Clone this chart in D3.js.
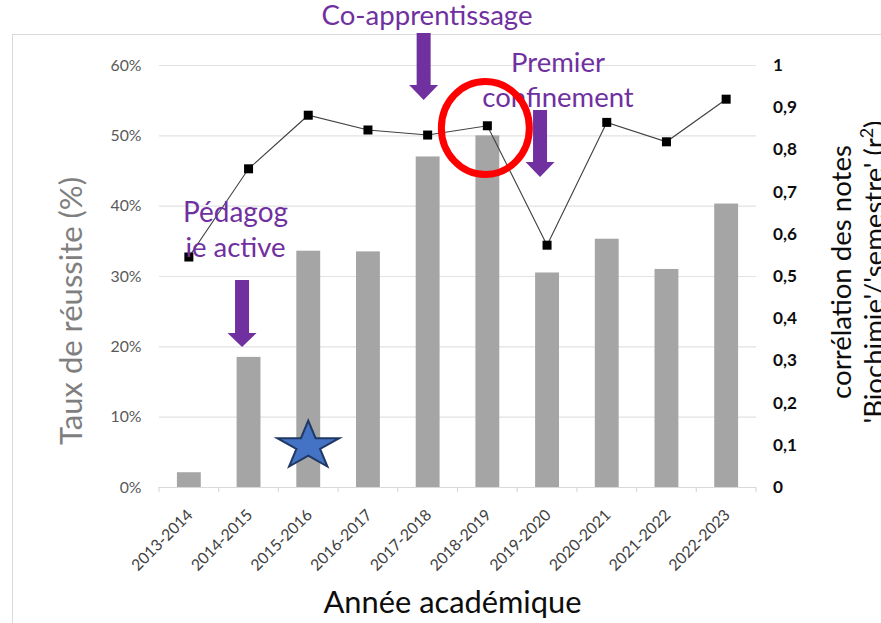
<!DOCTYPE html>
<html><head><meta charset="utf-8">
<script src="https://cdn.jsdelivr.net/npm/d3@7"></script>
<style>
body{margin:0;background:#fff}
svg{display:block}
text{font-family:Lato,"Noto Sans",sans-serif}
</style>
</head><body>
<svg id="c" width="881" height="623"></svg>
<script>
// ---- data ----
const years = ["2013-2014","2014-2015","2015-2016","2016-2017","2017-2018","2018-2019","2019-2020","2020-2021","2021-2022","2022-2023"];
const successRate = [2.1, 18.5, 33.6, 33.5, 47.0, 50.0, 30.5, 35.3, 31.0, 40.3];      // %
const correlation = [0.545, 0.754, 0.881, 0.846, 0.834, 0.856, 0.573, 0.864, 0.818, 0.919]; // r²
const leftTicks = [0, 10, 20, 30, 40, 50, 60];
const rightTicks = [0, 0.1, 0.2, 0.3, 0.4, 0.5, 0.6, 0.7, 0.8, 0.9, 1];
const leftTitle = "Taux de réussite (%)";
const rightTitle1 = "corrélation des notes";
const xTitle = "Année académique";

const svg = d3.select("#c");
const X0 = 159, X1 = 756, Y0 = 487, Y1 = 65;
const purple = "#7030A0";

function fit(sel, target){
  sel.style("font-size","100px");
  const w = sel.node().getComputedTextLength();
  const fs = 100*target/w;
  sel.style("font-size", fs+"px");
  return fs;
}

// chart border
svg.append("rect").attr("x",12.5).attr("y",34.5).attr("width",900).attr("height",700)
  .attr("fill","none").attr("stroke","#D9D9D9");

const x = d3.scaleBand().domain(years).range([X0,X1]).paddingInner(0.6).paddingOuter(0.3);
const yL = d3.scaleLinear().domain([0,60]).range([Y0,Y1]);
const yR = d3.scaleLinear().domain([0,1]).range([Y0,Y1]);
const cx = d => x(d) + x.bandwidth()/2;

// gridlines
svg.append("g").selectAll("line").data(leftTicks.filter(t=>t>0)).join("line")
  .attr("x1",X0).attr("x2",X1).attr("y1",d=>yL(d)+0.5).attr("y2",d=>yL(d)+0.5)
  .attr("stroke","#E2E2E2").attr("stroke-width",1.2);

// bars
svg.append("g").selectAll("rect").data(years).join("rect")
  .attr("x",d=>x(d)).attr("width",x.bandwidth())
  .attr("y",(d,i)=>yL(successRate[i])).attr("height",(d,i)=>Y0-yL(successRate[i]))
  .attr("fill","#A5A5A5");

// bottom axis
const step = x.step();
svg.append("line").attr("x1",X0).attr("x2",X1).attr("y1",Y0+0.5).attr("y2",Y0+0.5)
  .attr("stroke","#D9D9D9").attr("stroke-width",1.2);
svg.append("g").selectAll("line").data(d3.range(years.length+1)).join("line")
  .attr("x1",i=>X0+i*step).attr("x2",i=>X0+i*step).attr("y1",Y0).attr("y2",Y0+5)
  .attr("stroke","#D9D9D9").attr("stroke-width",1.2);

// x tick labels
const xl = svg.append("g").selectAll("text").data(years).join("text")
  .attr("transform",d=>`translate(${cx(d)+1},${Y0+25}) rotate(-45)`)
  .attr("text-anchor","end").attr("dy","0.35em")
  .attr("fill","#404040").text(d=>d);
const xfs = fit(d3.select(xl.nodes()[0]), 79);
xl.style("font-size", xfs+"px");

// left tick labels
const ll = svg.append("g").selectAll("text").data(leftTicks).join("text")
  .attr("x",141.5).attr("y",d=>yL(d)).attr("dy","0.35em").attr("text-anchor","end")
  .attr("fill","#595959").text(d=>d+"%");
const lfs = fit(d3.select(ll.nodes()[6]), 31);
ll.style("font-size", lfs+"px");

// right tick labels
const rl = svg.append("g").selectAll("text").data(rightTicks).join("text")
  .attr("x",773).attr("y",d=>yR(d)).attr("dy","0.35em").attr("text-anchor","start")
  .attr("font-weight","bold").attr("fill","#0D0D0D").text(d=>String(d).replace(".",","));
const rfs = fit(d3.select(rl.nodes()[9]), 24);
rl.style("font-size", rfs+"px");

// line series
const line = d3.line().x((d,i)=>cx(years[i])).y(d=>yR(d));
svg.append("path").datum(correlation).attr("d",line)
  .attr("fill","none").attr("stroke","#404040").attr("stroke-width",1.1);
svg.append("g").selectAll("rect").data(correlation).join("rect")
  .attr("x",(d,i)=>cx(years[i])-4.5).attr("y",d=>yR(d)-4.5)
  .attr("width",9).attr("height",9).attr("fill","#000");

// axis titles
const lt = svg.append("text").attr("transform",`translate(82,311) rotate(-90)`)
  .attr("text-anchor","middle").attr("fill","#7F7F7F").text(leftTitle);
fit(lt, 268);

const xt = svg.append("text").attr("x",452.5).attr("y",613).attr("text-anchor","middle")
  .attr("fill","#0D0D0D").text(xTitle);
fit(xt, 258);

const rt1 = svg.append("text").attr("transform",`translate(851,272) rotate(-90)`)
  .attr("text-anchor","middle").attr("fill","#0D0D0D").text(rightTitle1);
const rtfs = fit(rt1, 254);
const rt2 = svg.append("text").attr("transform",`translate(884,272) rotate(-90)`)
  .attr("text-anchor","middle").attr("fill","#0D0D0D").style("font-size",rtfs+"px");
rt2.append("tspan").text("'Biochimie'/'semestre' (r");
rt2.append("tspan").attr("baseline-shift","super").style("font-size",(rtfs*0.65)+"px").text("2");
rt2.append("tspan").text(")");

// annotations
function arrow(xc, top, headStart, tip){
  const sw=7, hw=14.5;
  svg.append("path").attr("d",`M${xc-sw},${top}L${xc+sw},${top}L${xc+sw},${headStart}L${xc+hw},${headStart}L${xc},${tip}L${xc-hw},${headStart}L${xc-sw},${headStart}Z`)
    .attr("fill",purple);
}
function label(txt, xc, y, w){
  const t = svg.append("text").attr("x",xc).attr("y",y).attr("text-anchor","middle").attr("fill",purple).text(txt);
  return fit(t, w);
}
const i1718 = cx("2017-2018"), i1415 = cx("2014-2015"), i1920 = cx("2019-2020");
label("Co-apprentissage", i1718-0.6, 25, 211);
arrow(i1718-4, 33, 85, 100);
const pfs = label("Premier", 558, 72, 94);
svg.append("text").attr("x",558).attr("y",107).attr("text-anchor","middle").attr("fill",purple)
  .style("font-size",pfs+"px").text("confinement");
arrow(i1920-7, 110, 162, 177);
label("Pédagog", 235.5, 222, 105);
svg.append("text").attr("x",235.5).attr("y",257).attr("text-anchor","middle").attr("fill",purple)
  .style("font-size",pfs+"px").text("ie active");
arrow(i1415-6.5, 280, 333, 347);

// red circle around 2018-2019
svg.append("ellipse").attr("cx",cx("2018-2019")-2).attr("cy",128).attr("rx",44).attr("ry",46.5)
  .attr("fill","none").attr("stroke","#FF0000").attr("stroke-width",7);

// star on 2015-2016
(function(){
  const c = cx("2015-2016"), cy = 446, Rx = 32.6, Ry = 25.4, r = 0.382;
  const pts = d3.range(10).map(k=>{
    const a = -Math.PI/2 + k*Math.PI/5, f = k%2 ? r : 1;
    return [c + Rx*f*Math.cos(a), cy + Ry*f*Math.sin(a)];
  });
  svg.append("polygon").attr("points",pts.map(p=>p.join(",")).join(" "))
    .attr("fill","#4472C4").attr("stroke","#1F3864").attr("stroke-width",2).attr("stroke-linejoin","miter");
})();
</script>
</body></html>
